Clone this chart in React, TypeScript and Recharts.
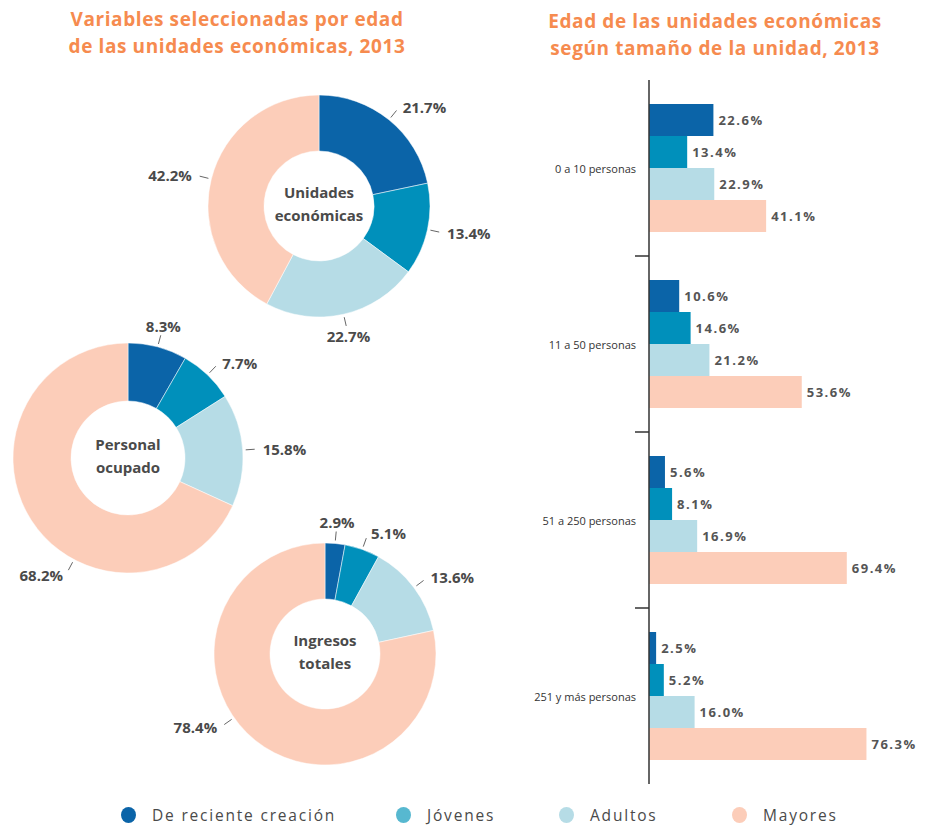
import { PieChart, Pie, Cell, BarChart, Bar, XAxis, YAxis, LabelList } from 'recharts';

const SERIES = ['De reciente creación', 'Jóvenes', 'Adultos', 'Mayores'];
const SERIES_KEYS = ['reciente', 'jovenes', 'adultos', 'mayores'];
const COLORS = ['#0b64a8', '#0090bb', '#b6dce6', '#fccdb9'];
const LEGEND_COLORS = ['#0b64a8', '#57b8d0', '#b6dce6', '#fccdb9'];
const ORANGE = '#f68b4f';
const TEXT = '#4a4a4a';

// donuts (percent of total)
const unidadesValues = [21.7, 13.4, 22.7, 42.2];
const personalValues = [8.3, 7.7, 15.8, 68.2];
const ingresosValues = [2.9, 5.1, 13.6, 78.4];

// bars by size of unit
const SIZE_LABELS = ['0 a 10 personas', '11 a 50 personas', '51 a 250 personas', '251 y más personas'];
const recienteValues = [22.6, 10.6, 5.6, 2.5];
const jovenesValues = [13.4, 14.6, 8.1, 5.2];
const adultosValues = [22.9, 21.2, 16.9, 16.0];
const mayoresValues = [41.1, 53.6, 69.4, 76.3];

const DONUTS = [
  { values: unidadesValues, lines: ['Unidades', 'económicas'], cx: 319, cy: 206, inner: 55, outer: 111 },
  { values: personalValues, lines: ['Personal', 'ocupado'], cx: 128, cy: 458, inner: 57, outer: 115, bigAngle: -118 },
  { values: ingresosValues, lines: ['Ingresos', 'totales'], cx: 325, cy: 654, inner: 55, outer: 111, bigAngle: -145 },
];

const BAND = 176;
const RADIAN = Math.PI / 180;

const barData = SIZE_LABELS.map((name, i) => ({
  name,
  reciente: recienteValues[i],
  jovenes: jovenesValues[i],
  adultos: adultosValues[i],
  mayores: mayoresValues[i],
}));

const makeDonutLabel = (bigAngle?: number) => (props: any) => {
  const { cx, cy, midAngle, outerRadius, value, index } = props;
  const angle = index === 3 && bigAngle !== undefined ? bigAngle : midAngle;
  const cos = Math.cos(-angle * RADIAN);
  const sin = Math.sin(-angle * RADIAN);
  const pt = (r: number) => [cx + r * cos, cy + r * sin];
  const [x1, y1] = pt(outerRadius + 3);
  const [x2, y2] = pt(outerRadius + 12);
  let anchor: 'start' | 'middle' | 'end' = 'middle';
  let tr = outerRadius + 22;
  let dx = 0;
  if (cos > 0.3) {
    anchor = 'start';
    tr = outerRadius + 17;
    dx = 3;
  } else if (cos < -0.3) {
    anchor = 'end';
    tr = outerRadius + 17;
    dx = -3;
  }
  const [tx, ty] = pt(tr);
  return (
    <g>
      <line x1={x1} y1={y1} x2={x2} y2={y2} stroke="#666" strokeWidth={1} />
      <text
        x={tx + dx}
        y={ty}
        textAnchor={anchor}
        dominantBaseline="central"
        fill={TEXT}
        fontSize={15}
        fontWeight={700}
        fontFamily="Open Sans"
      >
        {value.toFixed(1)}%
      </text>
    </g>
  );
};

const SizeTick = (props: any) => {
  const { x, y, payload, index } = props;
  return (
    <g>
      {index > 0 && (
        <line x1={x - 14} y1={y - BAND / 2} x2={x} y2={y - BAND / 2} stroke="#333" strokeWidth={1.5} />
      )}
      <text x={x - 13} y={y} textAnchor="end" dominantBaseline="central" fill="#333" fontSize={11} fontFamily="Open Sans">
        {payload.value}
      </text>
    </g>
  );
};

const titleStyle = {
  position: 'absolute' as const,
  color: ORANGE,
  fontWeight: 700,
  fontSize: 19,
  letterSpacing: 0.6,
  lineHeight: '27px',
  textAlign: 'center' as const,
};

export default function App() {
  return (
    <div style={{ position: 'absolute', left: 0, top: 0, width: 925, height: 825, background: '#fff', fontFamily: 'Open Sans', overflow: 'hidden' }}>
      <div style={{ ...titleStyle, left: 0, top: 6, width: 474 }}>
        Variables seleccionadas por edad
        <br />
        de las unidades económicas, 2013
      </div>
      <div style={{ ...titleStyle, left: 505, top: 8, width: 420 }}>
        Edad de las unidades económicas
        <br />
        según tamaño de la unidad, 2013
      </div>

      <div style={{ position: 'absolute', left: 0, top: 0 }}>
        <PieChart width={520} height={790} margin={{ top: 0, right: 0, bottom: 0, left: 0 }}>
          {DONUTS.map((d, di) => (
            <Pie
              key={di}
              data={d.values.map((v, i) => ({ name: SERIES[i], value: v }))}
              dataKey="value"
              nameKey="name"
              cx={d.cx}
              cy={d.cy}
              innerRadius={d.inner}
              outerRadius={d.outer}
              startAngle={90}
              endAngle={-270}
              stroke="#fff"
              strokeWidth={0.5}
              labelLine={false}
              label={makeDonutLabel(d.bigAngle)}
              isAnimationActive={false}
            >
              {d.values.map((_v, i) => (
                <Cell key={`cell-${i}`} fill={COLORS[i]} />
              ))}
            </Pie>
          ))}
        </PieChart>
      </div>
      {DONUTS.map((d, di) => (
        <div
          key={di}
          style={{
            position: 'absolute',
            left: d.cx - 60,
            top: d.cy - 25,
            width: 120,
            textAlign: 'center',
            color: TEXT,
            fontWeight: 700,
            fontSize: 15,
            lineHeight: '23px',
          }}
        >
          {d.lines[0]}
          <br />
          {d.lines[1]}
        </div>
      ))}

      <div style={{ position: 'absolute', left: 480, top: 0 }}>
        <BarChart
          layout="vertical"
          width={445}
          height={790}
          data={barData}
          margin={{ top: 80, right: 48, bottom: 6, left: 0 }}
          barGap={0}
          barCategoryGap={24}
        >
          <XAxis type="number" domain={[0, 80]} hide />
          <YAxis
            type="category"
            dataKey="name"
            width={169}
            axisLine={{ stroke: '#333', strokeWidth: 1.5 }}
            tickLine={false}
            tickSize={0}
            tickMargin={0}
            interval={0}
            tick={<SizeTick />}
          />
          {SERIES_KEYS.map((k, i) => (
            <Bar key={k} dataKey={k} fill={COLORS[i]} isAnimationActive={false}>
              <LabelList
                dataKey={k}
                position="right"
                offset={5}
                formatter={(v: any) => `${Number(v).toFixed(1)}%`}
                style={{ fill: '#555', fontSize: 13, fontWeight: 700, letterSpacing: 1.5, fontFamily: 'Open Sans' }}
              />
            </Bar>
          ))}
        </BarChart>
      </div>

      {SERIES.map((s, i) => (
        <div
          key={s}
          style={{
            position: 'absolute',
            left: [121, 396, 559, 732][i],
            top: 805,
            height: 20,
            display: 'flex',
            alignItems: 'center',
            color: TEXT,
            fontSize: 15.5,
            lineHeight: '20px',
            letterSpacing: 1.8,
          }}
        >
          <span style={{ display: 'inline-block', width: 15, height: 16, borderRadius: '50%', background: LEGEND_COLORS[i], marginRight: 16 }} />
          {s}
        </div>
      ))}
    </div>
  );
}
